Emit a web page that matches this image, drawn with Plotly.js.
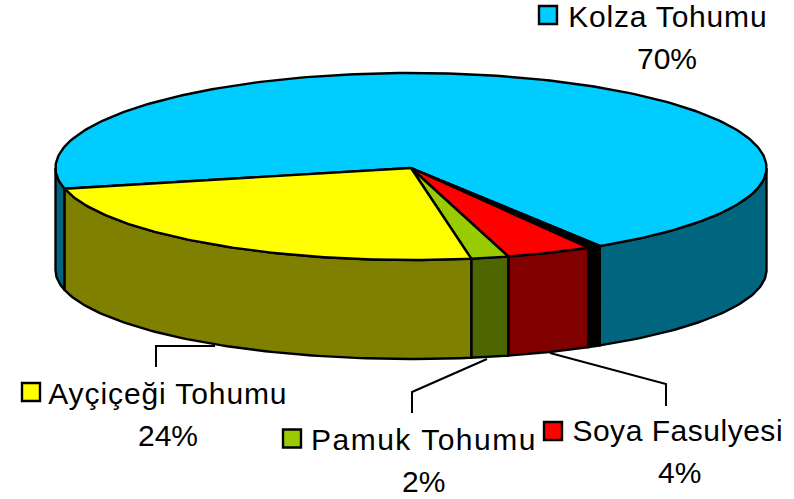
<!DOCTYPE html>
<html><head><meta charset="utf-8">
<script src="https://cdn.plot.ly/plotly-3.0.1.min.js"></script>
<style>
html,body{margin:0;padding:0;background:#fff}
#c{width:794px;height:499px}
</style></head><body><div id="c"></div>
<script>
// Data
const sliceNames = ['Kolza Tohumu','Diğer','Soya Fasulyesi','Pamuk Tohumu','Ayçiçeği Tohumu'];
const sliceValues = [69.7,0.6,3.9,1.7,24.1];
const slicePercents = ['70%','','4%','2%','24%'];
const topColors = ['#00CCFF','#000000','#FF0000','#99CC00','#FFFF00'];
const sideColors = ['#006680','#000000','#800000','#4D6600','#808000'];

// Pie geometry, in pixel-like axis units
const cx=411, cy=168, rx=355.5, ryBack=95, ryFront=92, cyB=270, ryB=89, startDeg=167;
const rad=t=>t*Math.PI/180;
const ptTop=t=>{const s=Math.sin(rad(t));return [cx+rx*Math.cos(rad(t)), cy+(s>0?ryFront:ryBack)*s];};
const ptBot=t=>[cx+rx*Math.cos(rad(t)), cyB+ryB*Math.sin(rad(t))];
function arc(a,b,f){const o=[];const n=Math.max(2,Math.ceil(Math.abs(b-a)));
  for(let i=0;i<=n;i++)o.push(f(a+(b-a)*i/n));return o;}
const total=sliceValues.reduce((s,v)=>s+v,0);
let acc=startDeg; const spans=sliceValues.map(v=>{const a=acc;acc+=v/total*360;return [a,acc];});

const traces=[];
function poly(points,fill){traces.push({type:'scatter',mode:'lines',x:points.map(p=>p[0]),y:points.map(p=>p[1]),
  fill:'toself',fillcolor:fill,line:{color:'#000',width:2.4,shape:'linear'},hoverinfo:'skip',showlegend:false});}
function line(xs,ys){traces.push({type:'scatter',mode:'lines',x:xs,y:ys,line:{color:'#000',width:2},hoverinfo:'skip',showlegend:false});}

// Leader lines go behind the pie
line([156,156,215],[367,346,346]);
line([412,412,487],[413,392,359]);
line([666,666,550],[406,384,353]);

// Side walls: only the front half (0..180 degrees) can be seen
spans.forEach(([a,b],i)=>{
  [0,360].forEach(off=>{
    const s=Math.max(a,off), e=Math.min(b,off+180);
    if(e>s){const top=arc(s,e,ptTop), bot=arc(e,s,ptBot);poly([...top,...bot,top[0]],sideColors[i]);}
  });
});
// Top wedges
spans.forEach(([a,b],i)=>{poly([[cx,cy],...arc(a,b,ptTop),[cx,cy]],topColors[i]);});

// Legend keys
const keyX=[548,null,553,292,31], keyY=[15,null,431,438.5,392];
sliceNames.forEach((n,i)=>{ if(keyX[i]===null)return;
  traces.push({type:'scatter',mode:'markers',x:[keyX[i]],y:[keyY[i]],
    marker:{symbol:'square',size:18,color:topColors[i],line:{color:'#000',width:2.4}},hoverinfo:'skip',showlegend:false});
});

// Labels
const nameX=[667.5,null,677.5,423.5,167.5], nameY=[16,null,430,439,393];
const pctX=[667,null,679,423,168], pctY=[58,null,472,481,435];
const nameTrack=[0.8,0,0.52,1.5,0.9];
const annotations=[]; let css='';
sliceNames.forEach((n,i)=>{ if(nameX[i]===null)return;
  const f={family:'"Liberation Sans",Arial,sans-serif',size:30,color:'#000'};
  css+=`.annotation[data-index="${annotations.length}"] .annotation-text{letter-spacing:${nameTrack[i]}px}\n`;
  annotations.push({xref:'x',yref:'y',x:nameX[i],y:nameY[i],text:n,showarrow:false,xanchor:'center',yanchor:'middle',font:f,borderpad:0,borderwidth:0});
  annotations.push({xref:'x',yref:'y',x:pctX[i],y:pctY[i],text:slicePercents[i],showarrow:false,xanchor:'center',yanchor:'middle',font:f,borderpad:0,borderwidth:0});
});
const st=document.createElement('style');st.textContent=css;document.head.appendChild(st);

Plotly.newPlot('c',traces,{
  width:794,height:499,margin:{l:0,r:0,t:0,b:0},paper_bgcolor:'#fff',plot_bgcolor:'#fff',showlegend:false,
  xaxis:{range:[0,794],visible:false,fixedrange:true},
  yaxis:{range:[499,0],visible:false,fixedrange:true},
  annotations
},{displayModeBar:false,staticPlot:true});
</script></body></html>
